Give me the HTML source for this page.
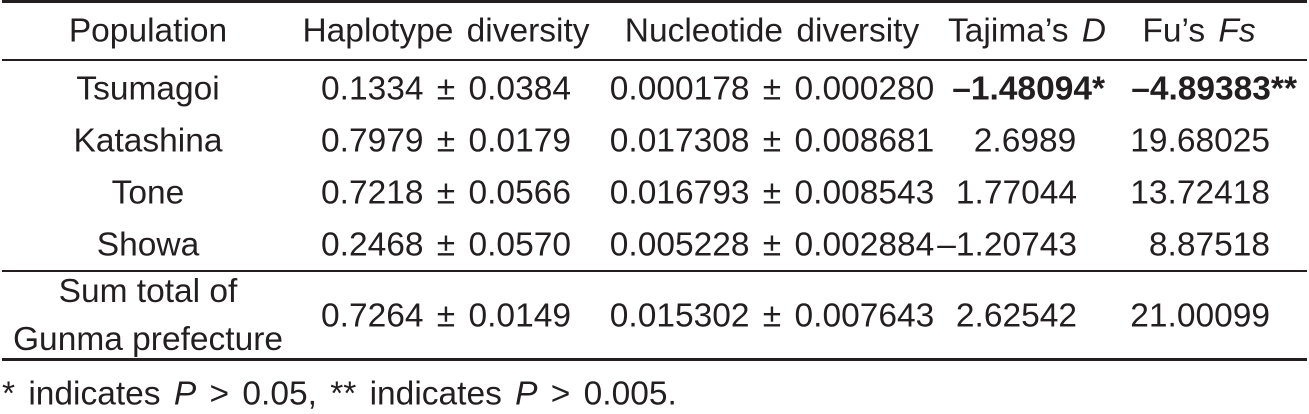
<!DOCTYPE html>
<html><head><meta charset="utf-8"><style>
body{margin:0;width:1309px;height:414px;background:#fff;overflow:hidden;position:relative;font-family:"Liberation Sans",Arial,sans-serif;color:#231f20;font-size:33.5px;word-spacing:4px}
.t{position:absolute;white-space:nowrap;line-height:1;transform:translateY(-50%)}
.c{transform:translate(-50%,-50%)}
.r{transform:translate(-100%,-50%)}
.line{position:absolute;left:2px;width:1305px;background:#231f20}
b{font-weight:bold}
</style></head><body>
<div class="line" style="top:0;height:3px"></div>
<div class="line" style="top:59px;height:2px"></div>
<div class="line" style="top:270px;height:2px"></div>
<div class="line" style="top:358px;height:3px"></div>

<div class="t c" style="left:148px;top:31px">Population</div>
<div class="t c" style="left:446px;top:31px">Haplotype diversity</div>
<div class="t c" style="left:772px;top:31px">Nucleotide diversity</div>
<div class="t c" style="left:1027px;top:31px">Tajima’s <i>D</i></div>
<div class="t c" style="left:1199px;top:31px">Fu’s <i>Fs</i></div>

<div class="t c" style="left:148px;top:89px">Tsumagoi</div>
<div class="t c" style="left:148px;top:141px">Katashina</div>
<div class="t c" style="left:148px;top:193px">Tone</div>
<div class="t c" style="left:148px;top:245px">Showa</div>
<div class="t c" style="left:148px;top:316px;text-align:center;line-height:48px;word-spacing:0">Sum total of<br>Gunma prefecture</div>

<div class="t c" style="left:446px;top:89px">0.1334 ± 0.0384</div>
<div class="t c" style="left:446px;top:141px">0.7979 ± 0.0179</div>
<div class="t c" style="left:446px;top:193px">0.7218 ± 0.0566</div>
<div class="t c" style="left:446px;top:245px">0.2468 ± 0.0570</div>
<div class="t c" style="left:446px;top:316px">0.7264 ± 0.0149</div>

<div class="t c" style="left:772px;top:89px">0.000178 ± 0.000280</div>
<div class="t c" style="left:772px;top:141px">0.017308 ± 0.008681</div>
<div class="t c" style="left:772px;top:193px">0.016793 ± 0.008543</div>
<div class="t c" style="left:772px;top:245px">0.005228 ± 0.002884</div>
<div class="t c" style="left:772px;top:316px">0.015302 ± 0.007643</div>

<div class="t r" style="left:1105px;top:89px"><b>–1.48094*</b></div>
<div class="t c" style="left:1025px;top:141px">2.6989</div>
<div class="t r" style="left:1077px;top:193px">1.77044</div>
<div class="t r" style="left:1077px;top:245px">–1.20743</div>
<div class="t r" style="left:1077px;top:316px">2.62542</div>

<div class="t r" style="left:1297px;top:89px"><b>–4.89383**</b></div>
<div class="t r" style="left:1270px;top:141px">19.68025</div>
<div class="t r" style="left:1270px;top:193px">13.72418</div>
<div class="t r" style="left:1270px;top:245px">8.87518</div>
<div class="t r" style="left:1270px;top:316px">21.00099</div>

<div class="t" style="left:2px;top:394px">* indicates <i>P</i> &gt; 0.05, ** indicates <i>P</i> &gt; 0.005.</div>
</body></html>
